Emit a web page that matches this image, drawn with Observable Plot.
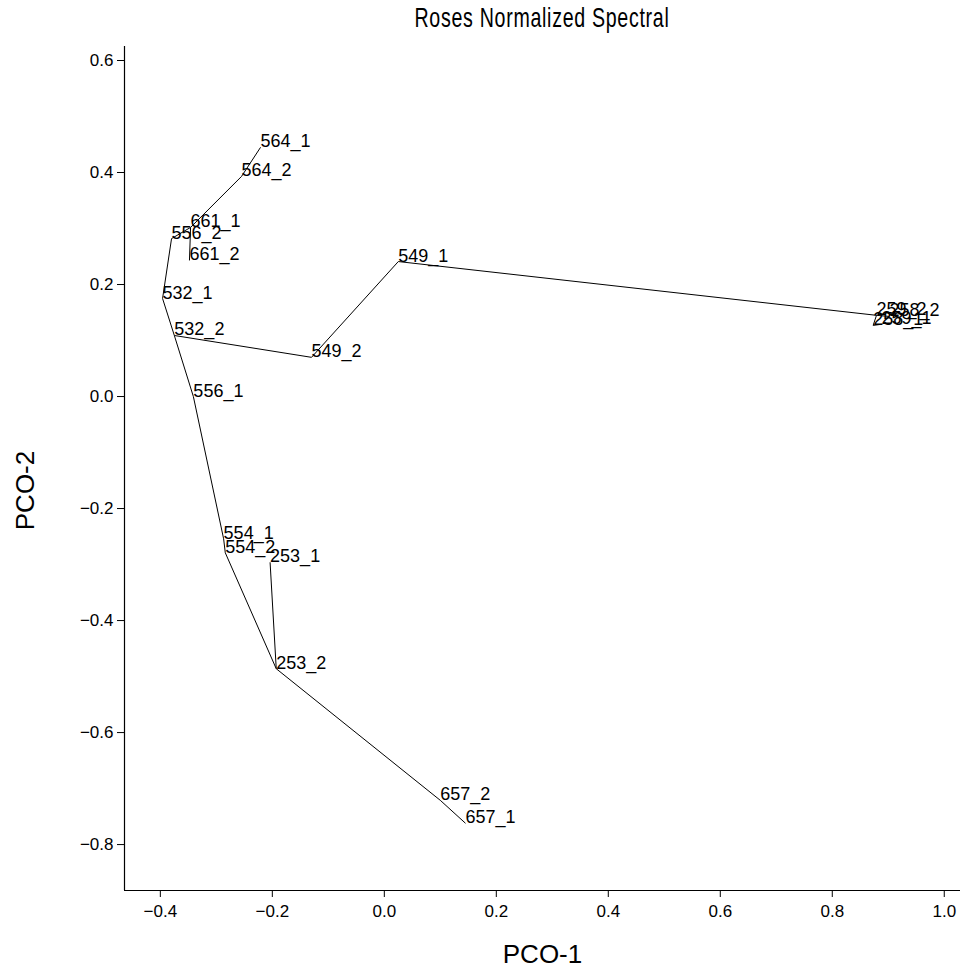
<!DOCTYPE html>
<html>
<head>
<meta charset="utf-8">
<script src="https://cdn.jsdelivr.net/npm/d3@7"></script>
<script src="https://cdn.jsdelivr.net/npm/@observablehq/plot@0.6"></script>
<style>
  html, body { margin: 0; padding: 0; background: #fff; }
  #wrap { position: relative; width: 962px; height: 971px; }
  #title { position: absolute; top: 2px; left: 542px; transform: translateX(-50%) scaleX(0.7);
           font-family: "Liberation Sans", "DejaVu Sans", sans-serif;
           font-size: 28px; letter-spacing: 1px; white-space: nowrap; color: #000; }
  #chart { position: absolute; top: 40px; left: 0; }
</style>
</head>
<body>
<div id="wrap">
  <div id="title">Roses Normalized Spectral</div>
  <div id="chart"></div>
</div>
<script>
// Node labels and their PCO coordinates
const labels = ["564_1","564_2","661_1","556_2","661_2","532_1","532_2","556_1",
                "554_1","554_2","253_1","253_2","657_2","657_1","549_2","549_1",
                "259_2","258_2","258_1","259_1"];
const pco1 = [-0.221,-0.255,-0.346,-0.380,-0.348,-0.396,-0.375,-0.341,
              -0.287,-0.284,-0.204,-0.193, 0.100, 0.145,-0.130, 0.025,
               0.879, 0.902, 0.873, 0.888];
const pco2 = [ 0.445, 0.393, 0.302, 0.282, 0.243, 0.175, 0.109, 0.000,
              -0.254,-0.279,-0.296,-0.486,-0.721,-0.762, 0.070, 0.241,
               0.145, 0.143, 0.127, 0.129];

// Tree edges
const edgeFrom = ["564_1","564_2","661_1","661_1","556_2","532_1","532_2","549_2","549_1",
                  "259_2","259_2","258_1","532_2","556_1","554_1","554_2","253_2","253_2","657_2"];
const edgeTo   = ["564_2","661_1","661_2","556_2","532_1","532_2","549_2","549_1","259_2",
                  "258_2","258_1","259_1","556_1","554_1","554_2","253_2","253_1","657_2","657_1"];

const xTicks = [-0.4,-0.2,0.0,0.2,0.4,0.6,0.8,1.0];
const yTicks = [-0.8,-0.6,-0.4,-0.2,0.0,0.2,0.4,0.6];
const xDomain = [-0.464, 1.029];
const yDomain = [-0.882, 0.625];

const nodes = labels.map((l,i) => ({label: l, x: pco1[i], y: pco2[i]}));
const byLabel = new Map(nodes.map(d => [d.label, d]));
const edges = edgeFrom.map((f,i) => ({a: byLabel.get(f), b: byLabel.get(edgeTo[i])}));

const font = '"Liberation Sans", "DejaVu Sans", sans-serif';
const fmt = d3.format(".1f");

const chart = Plot.plot({
  width: 962,
  height: 931,
  marginTop: 6,
  marginLeft: 124,
  marginRight: 2,
  marginBottom: 81,
  style: {fontFamily: font, fontSize: "17px", color: "#000", background: "#fff", overflow: "visible"},
  x: {domain: xDomain},
  y: {domain: yDomain},
  marks: [
    Plot.axisX(xTicks, {tickSize: 7, tickPadding: 7, tickFormat: fmt, fontSize: 17, label: null}),
    Plot.axisY(yTicks, {tickSize: 7, tickPadding: 4, tickFormat: fmt, fontSize: 17, label: null}),
    Plot.ruleY([yDomain[0]], {stroke: "#000", strokeWidth: 1.2}),
    Plot.ruleX([xDomain[0]], {stroke: "#000", strokeWidth: 1.2}),
    Plot.link(edges, {x1: d => d.a.x, y1: d => d.a.y, x2: d => d.b.x, y2: d => d.b.y,
                      stroke: "#000", strokeWidth: 1}),
    Plot.text(nodes, {x: "x", y: "y", text: "label", textAnchor: "start", lineAnchor: "bottom",
                      fontSize: 18, fill: "#000", style: "letter-spacing: 1.5px"}),
    Plot.text(["PCO-1"], {frameAnchor: "bottom", dy: 72, lineAnchor: "bottom",
                          fontSize: 26, fill: "#000"}),
    Plot.text(["PCO-2"], {frameAnchor: "left", dx: -99, dy: 22, rotate: -90,
                          textAnchor: "middle", lineAnchor: "middle", fontSize: 26, fill: "#000"})
  ]
});
document.getElementById("chart").appendChild(chart);
</script>
</body>
</html>
